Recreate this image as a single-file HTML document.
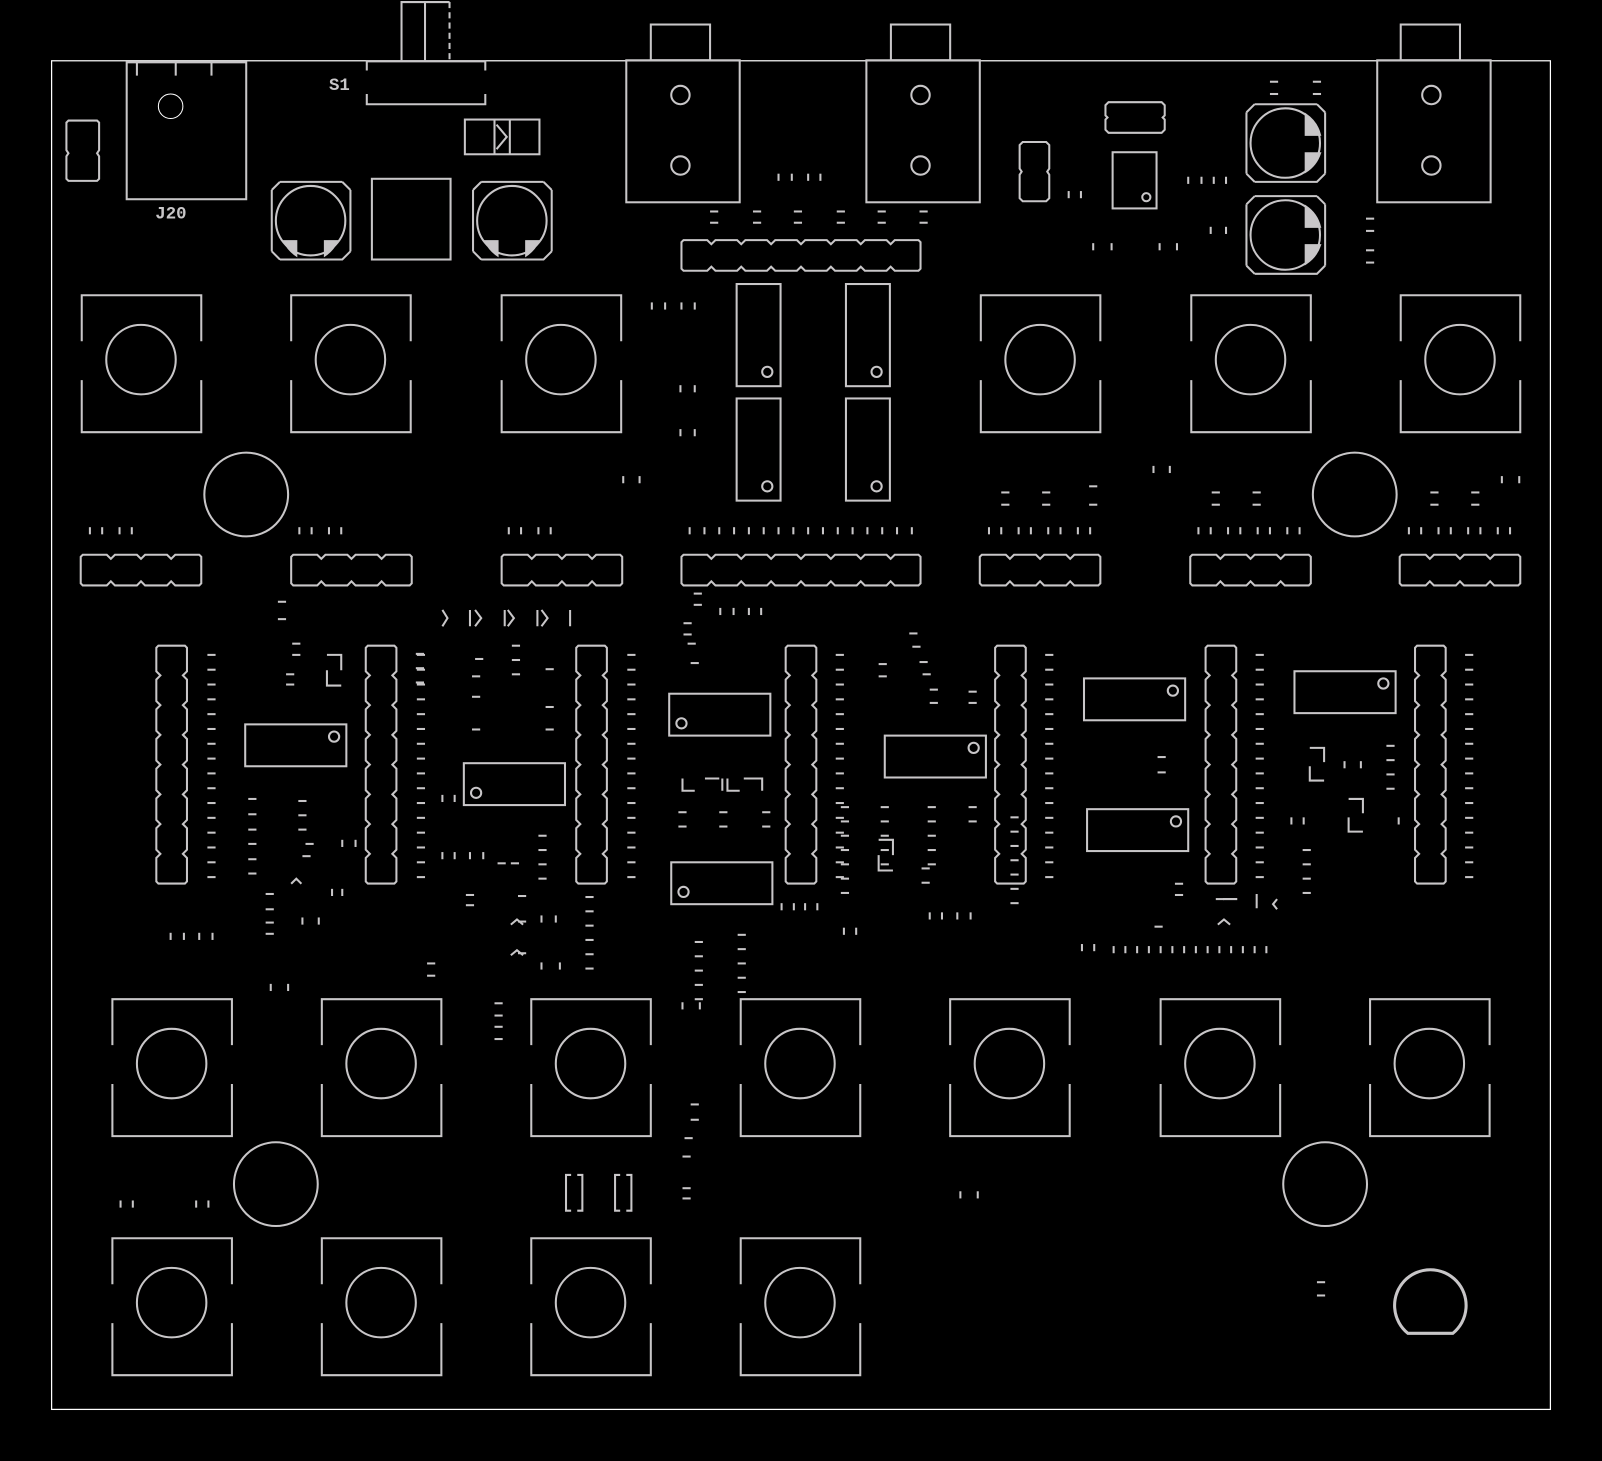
<!DOCTYPE html>
<html><head><meta charset="utf-8"><style>
html,body{margin:0;padding:0;background:#000;}
svg{display:block;}
text{font-family:"Liberation Mono",monospace;font-weight:bold;fill:#c8c6c8;font-size:17px;}
</style></head><body>
<svg id="s" width="1602" height="1461" viewBox="0 0 1568 1430" xmlns="http://www.w3.org/2000/svg">
<rect x="0" y="0" width="1568" height="1430" fill="#000"/>
<g id="g" fill="none" stroke="#c8c6c8" stroke-width="2">
<rect x="50.5" y="59.5" width="1467" height="1320" stroke="#fff" stroke-width="1.2"/>
<rect x="124" y="61" width="117" height="134"/>
<path d="M134 61v13M172 61v13M207 61v13"/>
<circle cx="167" cy="104" r="12" stroke="#fff" stroke-width="1"/>
<path d="M67 118h28l2 2v27l-2 3 2 3v22l-2 2h-28l-2-2v-22l2-3-2-3v-27z"/>
<path d="M393 59V2h47M393 2v57M416 2v57"/>
<path d="M440 2v57" stroke-dasharray="6 4"/>
<path d="M359 69V60h116v9M359 92v10h116v-10"/>
<rect x="455" y="117" width="73" height="34"/>
<path d="M484 117v34M499 117v34M486 122l10 12-10 12"/>
<rect x="364" y="175" width="77" height="79"/>
<path d="M1085 100h52l3 3v10l-2 2 2 2v10l-3 3h-52l-3-3v-10l2-2-2-2v-10z"/>
<path d="M1001 139h23l3 3v23l-2 3 2 3v23l-3 3h-23l-3-3v-23l2-3-2-3v-23z"/>
<rect x="1089" y="149" width="43" height="55"/>
<circle cx="1122" cy="193" r="4"/>
</g>
<text x="322" y="88">S1</text>
<text x="152" y="214">J20</text>
</svg>
<script>
const g=document.getElementById('g');
let h='';
const L=(x1,y1,x2,y2)=>h+=`<path d="M${x1} ${y1}L${x2} ${y2}"/>`;
const R=(x,y,w,hh)=>h+=`<rect x="${x}" y="${y}" width="${w}" height="${hh}"/>`;
const C=(x,y,r)=>h+=`<circle cx="${x}" cy="${y}" r="${r}"/>`;
function pot(x,y){const w=117,H=134;h+=`<path d="M${x} ${y+45}V${y}h${w}v45M${x} ${y+83}V${y+H}h${w}v-${H-83}"/>`;C(x+58,y+63,34);}
[80,285,491,960,1166,1371].forEach(x=>pot(x,289));
[110,315,520,725,930,1136,1341].forEach(x=>pot(x,978));
[110,315,520,725].forEach(x=>pot(x,1212));
[[241,484],[1326,484],[270,1159],[1297,1159]].forEach(p=>C(p[0],p[1],41));
h+=`<path d="M1378 1305 A35 35 0 1 1 1422 1305 Z" stroke-width="3"/>`;
function jack(x,tx){R(x,59,111,139);R(tx,24,58,35);C(x+53,93,9);C(x+53,162,9);}
jack(613,637);jack(848,872);jack(1348,1371);
function hdr(x,y,n,seg){const X=x+n*seg;let d=`M${x+2} ${y}`;
 for(let i=1;i<n;i++){const b=x+i*seg;d+=`L${b-4} ${y}L${b} ${y+4}L${b+4} ${y}`;}
 d+=`L${X-2} ${y}L${X} ${y+2}L${X} ${y+28}L${X-2} ${y+30}`;
 for(let i=n-1;i>=1;i--){const b=x+i*seg;d+=`L${b+4} ${y+30}L${b} ${y+26}L${b-4} ${y+30}`;}
 d+=`L${x+2} ${y+30}L${x} ${y+28}L${x} ${y+2}Z`;h+=`<path d="${d}"/>`;}
hdr(667,235,8,29.25);
[79,285,491,959,1165,1370].forEach(x=>hdr(x,543,4,29.5));
hdr(667,543,8,29.25);
function vhdr(x,y){const seg=29.1,n=8,Y=y+n*seg;let d=`M${x+2} ${y}L${x+28} ${y}L${x+30} ${y+2}`;
 for(let i=1;i<n;i++){const b=y+i*seg;d+=`L${x+30} ${b-4}L${x+26} ${b}L${x+30} ${b+4}`;}
 d+=`L${x+30} ${Y-2}L${x+28} ${Y}L${x+2} ${Y}L${x} ${Y-2}`;
 for(let i=n-1;i>=1;i--){const b=y+i*seg;d+=`L${x} ${b+4}L${x+4} ${b}L${x} ${b-4}`;}
 d+=`L${x} ${y+2}Z`;h+=`<path d="${d}"/>`;}
[153,358,564,769,974,1180,1385].forEach(x=>vhdr(x,632));
[[721,278],[828,278],[721,390],[828,390]].forEach(p=>{R(p[0],p[1],43,100);C(p[0]+30,p[1]+86,5);});
[[240,709,1],[454,747,0],[655,679,0],[866,720,1],[1061,664,1],[1267,657,1],[1064,792,1],[657,844,0]].forEach(p=>{R(p[0],p[1],99,41);C(p[2]?p[0]+87:p[0]+12,p[2]?p[1]+12:p[1]+29,5);});
function cap(x,y,flip){
 h+=`<path d="M${x+8} ${y}h${61}M${x+77} ${y+8}v60M${x+8} ${y+76}h61l8-8M${x} ${y+8}v60M${x} ${y+8}l8-8M${x+69} ${y}l8 8M${x} ${y+68}l8 8" />`;
 C(x+38,y+38,34);
 if(flip) h+=`<path d="M${x+12} ${y+58}L${x+24} ${y+58}L${x+24} ${y+72}A34 34 0 0 1 ${x+12} ${y+58}Z M${x+52} ${y+58}L${x+64} ${y+58}A34 34 0 0 1 ${x+52} ${y+72}Z" fill="#c8c6c8"/>`;
 else h+=`<path d="M${x+58} ${y+10}A34 34 0 0 1 ${x+72} ${y+30}L${x+58} ${y+30}Z M${x+58} ${y+48}L${x+72} ${y+48}A34 34 0 0 1 ${x+58} ${y+66}Z" fill="#c8c6c8"/>`;
}
cap(266,178,1);cap(463,178,1);cap(1220,102,0);cap(1220,192,0);
const vt=(x,y)=>L(x,y,x,y+7);
const hd=(x,y)=>L(x,y,x+8,y);
[[88,100,117,129],[293,305,322,334],[498,510,527,539],[968,980,997,1009,1026,1038,1055,1067],[1173,1185,1202,1214,1231,1243,1260,1272],[1379,1391,1408,1420,1437,1449,1466,1478]].forEach(a=>a.forEach(x=>vt(x,516)));
for(let i=0;i<16;i++)vt(675+i*14.5,516);
[638,651,667,680].forEach(x=>vt(x,296));
[762,775,791,803].forEach(x=>vt(x,170));
[1163,1176,1188,1200].forEach(x=>vt(x,173));
[695,737,777,819,859,900].forEach(x=>{hd(x,207);hd(x,218);});
[[666,377],[680,377],[666,420],[680,420],[610,466],[626,466],[1129,456],[1145,456],[1470,466],[1487,466],[1070,238],[1088,238],[1135,238],[1152,238],[1185,222],[1200,222],[1046,187],[1058,187],[705,595],[718,595],[733,595],[745,595],[167,913],[180,913],[195,913],[208,913],[265,963],[282,963],[668,981],[685,981],[940,1166],[957,1166],[118,1175],[130,1175],[192,1175],[204,1175],[765,884],[777,884],[788,884],[800,884],[910,893],[922,893],[937,893],[950,893],[826,908],[838,908],[433,834],[445,834],[460,834],[473,834],[530,896],[544,896],[530,942],[548,942],[296,898],[312,898],[325,870],[335,870],[335,822],[348,822],[433,778],[445,778],[1316,745],[1332,745],[1264,800],[1276,800],[1369,800],[1059,924],[1071,924]].forEach(p=>vt(p[0],p[1]));
for(let i=0;i<14;i++)vt(1090+i*11.5,926);
[[980,482],[980,494],[1020,482],[1020,494],[1066,476],[1066,494],[1186,482],[1186,494],[1226,482],[1226,494],[1400,482],[1400,494],[1440,482],[1440,494],[1243,80],[1243,92],[1285,80],[1285,92],[1337,214],[1337,226],[1337,245],[1337,257],[272,589],[272,606],[286,630],[286,641],[280,660],[280,670],[679,581],[679,592],[669,610],[669,621],[673,630],[676,649],[890,620],[893,633],[900,648],[903,660],[860,650],[860,662],[910,675],[910,688],[948,677],[948,688],[1133,741],[1133,756],[1130,907],[1150,865],[1150,876],[1190,880],[676,1081],[676,1096],[670,1114],[668,1132],[668,1163],[668,1173],[1289,1255],[1289,1268],[484,982],[484,994],[484,1005],[484,1017],[418,943],[418,955],[507,877],[507,902],[507,933],[260,875],[260,890],[260,903],[260,914],[243,782],[243,797],[243,812],[243,826],[243,841],[243,855],[292,784],[292,798],[292,812],[296,838],[299,826],[534,655],[534,692],[534,714],[462,662],[462,682],[462,714],[465,645],[456,876],[456,886],[487,845],[500,845]].forEach(p=>hd(p[0],p[1]));
[203,408,614,818,1023,1229,1434].forEach(x=>{for(let i=0;i<16;i++)hd(x,641+i*14.5);});
[[573,878,6],[680,922,5],[722,915,5],[527,818,4],[1275,832,4],[1357,730,4],[823,790,7],[989,800,7],[862,790,5],[908,790,5],[948,790,2],[902,850,2],[746,795,2],[664,795,2],[704,795,2],[501,632,3],[407,640,3]].forEach(a=>{for(let i=0;i<a[2];i++)hd(a[0],a[1]+i*14);});
const br=(x,y,w,hh)=>h+=`<path d="M${x+5} ${y}H${x}V${y+hh}H${x+5}M${x+w-5} ${y}H${x+w}V${y+hh}H${x+w-5}"/>`;
br(554,1150,16,35);br(602,1150,16,35);
h+=`<path d="M320 641h14v15M320 656v15h14M860 822h14v15M860 837v15h14M1282 732h14v14M1282 750v14h14M1320 782h14v14M1320 800v14h14"/>`;
h+=`<path d="M668 762v12h12M690 762h14M712 762v12h12M728 762h18v12M707 762v12"/>`;
h+=`<path d="M433 597l5 8-5 8M460 597v16M465 597l6 8-6 8M494 597v16M497 597l6 8-6 8M526 597v16M530 597l6 8-6 8M558 597v16"/>`;
h+=`<path d="M285 865l5-5 5 5M500 905l6-5 6 5M500 935l6-5 6 5M1192 905l6-5 6 5M1250 880l-4 5 4 5M1230 875v14M1197 880h14"/>`;
g.innerHTML+=h;
</script>
</body></html>
